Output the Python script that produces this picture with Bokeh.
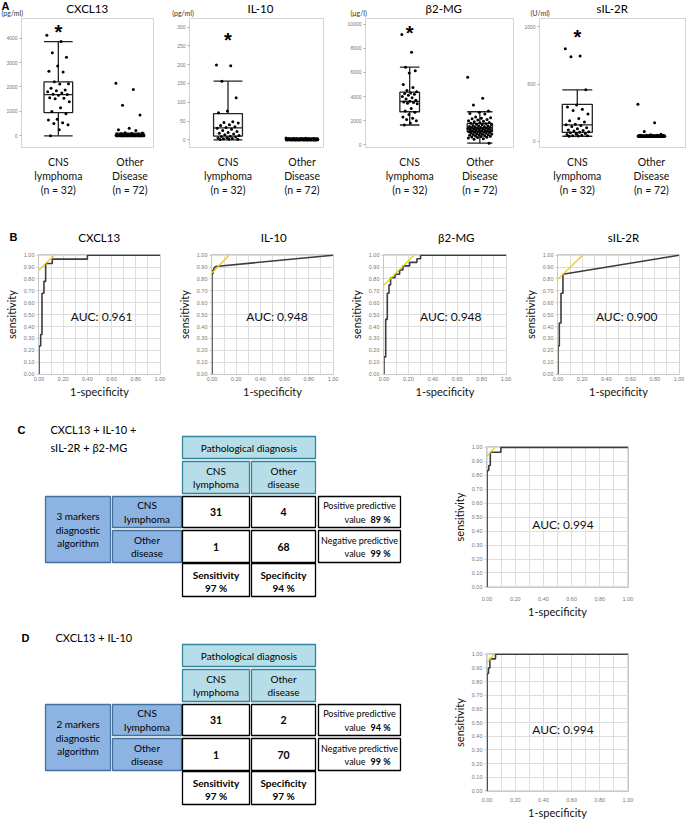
from bokeh.plotting import figure
from bokeh.models import Range1d, FixedTicker, Label, NumeralTickFormatter
from bokeh.layouts import row, column
from bokeh.core.properties import value
from bokeh.embed import file_html
from bokeh.resources import INLINE

FONT = "Lato"
W = 688

# ---------------- Panel A data ----------------
group_labels = ["CNS\nlymphoma\n(n = 32)", "Other\nDisease\n(n = 72)"]
marker_names = ["CXCL13", "IL-10", "β2-MG", "sIL-2R"]
unit_labels = ["(pg/ml)", "(pg/ml)", "(μg/l)", "(U/ml)"]

cxcl13_cns = [4120, 3860, 3400, 3220, 2860, 2640, 2610, 2210, 2130, 2120, 1950, 1880, 1850, 1800,
              1750, 1700, 1690, 1660, 1560, 1540, 1520, 1400, 1150, 1000, 900, 680, 650, 530, 500,
              450, 250, 0]
cxcl13_oth = [2150, 1900, 1250, 850, 310, 250, 220, 130, 110, 95, 80, 70, 65, 60, 55, 50, 48, 45,
              42, 40, 38, 35, 33, 30, 28, 26, 25, 24, 22, 20, 19, 18, 17, 16, 15, 14, 13, 12, 11,
              10, 10, 9, 8, 8, 7, 6, 6, 5, 5, 4, 4, 3, 3, 2, 2, 1, 1, 0, 0, 0, 0, 0, 0, 0, 0, 0, 0,
              0, 0, 0, 0, 0]
il10_cns = [199, 197, 156, 112, 77, 72, 48, 46, 45, 40, 38, 35, 33, 31, 28, 25, 22, 20, 18, 16, 14,
            12, 10, 9, 8, 6, 5, 4, 3, 2, 2, 1]
il10_oth = [5, 4.5, 4, 4, 3.5, 3, 3, 3, 2.5, 2.5, 2, 2, 2, 2, 2, 1.8, 1.8, 1.6, 1.5, 1.5, 1.5, 1.4,
            1.3, 1.2, 1.2, 1.1, 1, 1, 1, 1, 1, 1, 0.9, 0.9, 0.8, 0.8, 0.8, 0.7, 0.7, 0.6, 0.6, 0.6,
            0.5, 0.5, 0.5, 0.5, 0.4, 0.4, 0.4, 0.3, 0.3, 0.3, 0.3, 0.2, 0.2, 0.2, 0.2, 0.1, 0.1,
            0.1, 0.1, 0, 0, 0, 0, 0, 0, 0, 0, 0, 0, 0]
b2mg_cns = [9150, 7670, 6440, 6150, 5950, 5000, 4750, 4500, 4400, 4300, 4250, 4200, 4100, 4000,
            3900, 3800, 3700, 3600, 3550, 3500, 3450, 3400, 3000, 2800, 2700, 2500, 2300, 2200,
            2100, 2000, 1800, 1640]
b2mg_oth = [5600, 3850, 3300, 2800, 2700, 2600, 2550, 2300, 2250, 2200, 2150, 2100, 2050, 2000,
            1950, 1900, 1850, 1800, 1780, 1750, 1700, 1680, 1650, 1600, 1580, 1550, 1520, 1500,
            1480, 1450, 1430, 1400, 1380, 1360, 1340, 1320, 1300, 1280, 1260, 1240, 1220, 1200,
            1180, 1160, 1140, 1120, 1100, 1080, 1060, 1040, 1020, 1000, 980, 950, 920, 900, 880,
            850, 820, 800, 780, 750, 720, 700, 680, 650, 620, 600, 550, 500, 450, 130]
sil2r_cns = [808, 746, 740, 450, 318, 300, 280, 270, 240, 200, 180, 170, 150, 145, 140, 130, 120,
             110, 100, 95, 90, 85, 80, 75, 70, 65, 60, 55, 50, 50, 48, 45]
sil2r_oth = [324, 163, 87, 62, 58, 55, 54, 53, 52, 51, 50, 50, 50, 49, 49, 48, 48, 48, 47, 47, 47,
             47, 46, 46, 46, 46, 46, 46, 45, 45, 45, 45, 45, 45, 45, 45, 45, 45, 45, 45, 45, 45,
             45, 45, 45, 45, 45, 45, 45, 45, 45, 45, 45, 45, 45, 45, 45, 45, 45, 45, 45, 45, 45,
             45, 45, 45, 45, 45, 45, 45, 45, 45]

# box statistics: [lower whisker, Q1, median, Q3, upper whisker]
cxcl13_box = [[0, 950, 1690, 2210, 3860], [0, 8, 20, 45, 110]]
il10_box = [[0, 10, 32, 70, 156], [0, 0.4, 1, 2, 5]]
b2mg_box = [[1640, 2740, 3590, 4360, 6440], [130, 1080, 1380, 1770, 2740]]
sil2r_box = [[45, 79, 144, 324, 450], [45, 45, 47, 50, 55]]

cxcl13_ticks = [0, 1000, 2000, 3000, 4000]
il10_ticks = [0, 50, 100, 150, 200, 250, 300]
b2mg_ticks = [0, 2000, 4000, 6000, 8000, 10000]
sil2r_ticks = [0, 500, 1000]

star_y = [4485, 282, 9800, 966]

# ---------------- ROC data ----------------
roc_xticks = [0.0, 0.2, 0.4, 0.6, 0.8, 1.0]
roc_yticks = [0.0, 0.1, 0.2, 0.3, 0.4, 0.5, 0.6, 0.7, 0.8, 0.9, 1.0]
roc_grid = [0.0, 0.1, 0.2, 0.3, 0.4, 0.5, 0.6, 0.7, 0.8, 0.9, 1.0]

cxcl13_fpr = [0, 0, 0.014, 0.014, 0.025, 0.025, 0.041, 0.041, 0.055, 0.055, 0.11, 0.11, 0.40, 0.40, 1.0]
cxcl13_tpr = [0, 0.236, 0.236, 0.333, 0.333, 0.68, 0.68, 0.78, 0.78, 0.93, 0.93, 0.967, 0.967, 1.0, 1.0]
il10_fpr = [0, 0, 0.008, 0.008, 0.016, 0.016, 0.03, 1.0]
il10_tpr = [0, 0.844, 0.844, 0.875, 0.875, 0.89, 0.905, 1.0]
b2mg_fpr = [0, 0, 0.014, 0.014, 0.027, 0.027, 0.041, 0.041, 0.054, 0.054, 0.09, 0.09, 0.128, 0.128,
            0.155, 0.155, 0.21, 0.21, 0.27, 0.27, 0.30, 0.30, 1.0]
b2mg_tpr = [0, 0.144, 0.144, 0.46, 0.46, 0.68, 0.68, 0.75, 0.75, 0.81, 0.81, 0.84, 0.84, 0.875,
            0.875, 0.91, 0.91, 0.94, 0.94, 0.97, 0.97, 1.0, 1.0]
sil2r_fpr = [0, 0, 0.011, 0.011, 0.025, 0.025, 0.041, 0.041, 1.0]
sil2r_tpr = [0, 0.236, 0.236, 0.43, 0.43, 0.68, 0.68, 0.84, 1.0]
comb4_fpr = [0, 0, 0.012, 0.012, 0.023, 0.023, 0.098, 0.098, 1.0]
comb4_tpr = [0, 0.834, 0.834, 0.87, 0.87, 0.965, 0.965, 1.0, 1.0]
comb2_fpr = [0, 0, 0.01, 0.01, 0.02, 0.02, 0.06, 0.06, 1.0]
comb2_tpr = [0, 0.86, 0.86, 0.9, 0.9, 0.967, 0.967, 1.0, 1.0]

# optimal-cutoff tangent lines (yellow)
cxcl13_cut = ([0, 0.125], [0.875, 1.0])
il10_cut = ([0, 0.14], [0.85, 1.0])
b2mg_cut = ([0, 0.245], [0.75, 1.0])
sil2r_cut = ([0, 0.204], [0.80, 1.0])
comb4_cut = ([0, 0.056], [0.936, 1.0])
comb2_cut = ([0, 0.05], [0.94, 1.0])

auc_values = ["0.961", "0.948", "0.948", "0.900"]
auc_comb4 = "0.994"
auc_comb2 = "0.994"

# ---------------- Tables ----------------
tab_col_labels = [["CNS", "lymphoma"], ["Other", "disease"]]
tab_row_labels = [["CNS", "lymphoma"], ["Other", "disease"]]
tabC_title = ["CXCL13 + IL-10 +", "sIL-2R + β2-MG"]
tabC_alg = ["3 markers", "diagnostic", "algorithm"]
tabC_counts = [[31, 4], [1, 68]]
tabC_sens, tabC_spec = "97 %", "94 %"
tabC_ppv, tabC_npv = "89 %", "99 %"
tabD_title = ["CXCL13 + IL-10"]
tabD_alg = ["2 markers", "diagnostic", "algorithm"]
tabD_counts = [[31, 2], [1, 70]]
tabD_sens, tabD_spec = "97 %", "97 %"
tabD_ppv, tabD_npv = "94 %", "99 %"


def blank(width, height, x0, x1, y_top, y_bot):
    p = figure(width=width, height=height, x_range=Range1d(x0, x1), y_range=Range1d(y_bot, y_top),
               output_backend="svg", toolbar_location=None, x_axis_location=None,
               y_axis_location=None, min_border=0)
    p.grid.visible = False
    p.outline_line_color = None
    p.background_fill_color = "white"
    p.border_fill_color = "white"
    return p


def put_text(p, items, size="10px", bold=False, align="center", font=FONT, color="black"):
    p.text(x=[i[0] for i in items], y=[i[1] for i in items], text=[i[2] for i in items],
           text_align=align, text_baseline="middle", text_font=value(font),
           text_font_size=value(size), text_font_style=value("bold" if bold else "normal"),
           text_color=color)


def jitter(i, half):
    return half * (((i * 0.6180339887) % 1.0) * 2 - 1)


# ---------------- Row A: header strip + box plots ----------------
SA_H = 17
SA = blank(W, SA_H, 0, W, 0, SA_H)
A_title_x = [86.7, 260, 443.3, 611.7]
A_unit_x = [1, 171.7, 350, 530]
put_text(SA, [(5, 5.5, "A")], size="11px", bold=True, font="Liberation Sans")
put_text(SA, [(A_title_x[k], 7.5, marker_names[k]) for k in range(4)], size="11.5px")
put_text(SA, [(A_unit_x[k], 12.2, unit_labels[k]) for k in range(4)], size="7px",
         align="left", color="#333333")

A_H, A_TOP, A_FH = 182, 1, 136
A_w = [170, 170, 178, 170]
A_lb = [21, 19, 25, 21]
A_fw = [132, 134, 148, 146]
A_xr = [(-0.514, 1.328), (-0.52, 1.29), (-0.63, 1.48), (-0.51, 1.46)]
A_yr = [(-479, 4806), (-20.2, 322.7), (-230, 10480), (-53, 1073)]
A_bw = [(0.40, 0.41), (0.39, 0.45), (0.28, 0.36), (0.405, 0.38)]

A_vals = [(cxcl13_cns, cxcl13_oth), (il10_cns, il10_oth), (b2mg_cns, b2mg_oth), (sil2r_cns, sil2r_oth)]
A_box = [cxcl13_box, il10_box, b2mg_box, sil2r_box]
A_ticks = [cxcl13_ticks, il10_ticks, b2mg_ticks, sil2r_ticks]

figsA = []
for k in range(4):
    w, lb, fw = A_w[k], A_lb[k], A_fw[k]
    p = figure(width=w, height=A_H, x_range=Range1d(*A_xr[k]), y_range=Range1d(*A_yr[k]),
               output_backend="svg", toolbar_location=None,
               min_border_left=lb, min_border_right=w - lb - fw,
               min_border_top=A_TOP, min_border_bottom=A_H - A_TOP - A_FH)
    p.xgrid.visible = False
    p.ygrid.visible = False
    p.outline_line_color = "#d4d4d4"
    p.background_fill_color = "white"
    p.border_fill_color = "white"
    p.xaxis.ticker = FixedTicker(ticks=[0, 1])
    p.xaxis.major_label_overrides = {0: group_labels[0], 1: group_labels[1]}
    p.xaxis.axis_line_color = None
    p.xaxis.major_tick_line_color = None
    p.xaxis.minor_tick_line_color = None
    p.xaxis.major_label_text_font = FONT
    p.xaxis.major_label_text_font_size = "10.5px"
    p.xaxis.major_label_text_color = "#111111"
    p.xaxis.major_label_standoff = 2
    p.yaxis.ticker = FixedTicker(ticks=A_ticks[k])
    p.yaxis.axis_line_color = None
    p.yaxis.major_tick_line_color = "#aaaaaa"
    p.yaxis.major_tick_out = 2
    p.yaxis.major_tick_in = 0
    p.yaxis.minor_tick_line_color = None
    p.yaxis.major_label_text_font_size = "5px"
    p.yaxis.major_label_text_color = "#777777"
    p.yaxis.major_label_standoff = 2
    for g in range(2):
        vals = A_vals[k][g]
        lo, q1, med, q3, hi = A_box[k][g]
        bw = A_bw[k][g]
        p.quad(left=[g - bw / 2], right=[g + bw / 2], bottom=[q1], top=[q3],
               fill_color=None, line_color="#222222", line_width=1.3)
        p.segment(x0=[g - bw / 2, g, g, g - bw / 2, g - bw / 2],
                  y0=[med, q3, q1, hi, lo],
                  x1=[g + bw / 2, g, g, g + bw / 2, g + bw / 2],
                  y1=[med, hi, lo, hi, lo], line_color="#222222", line_width=1.3)
        half = bw * (0.40 if g == 0 else 0.48)
        xs = [g + jitter(i, half) for i in range(len(vals))]
        p.scatter(xs, vals, size=3, color="black", line_color=None)
    p.text(x=[0], y=[star_y[k]], text=["*"], text_align="center", text_baseline="middle",
           text_font=value("Liberation Sans"), text_font_size=value("20px"),
           text_font_style=value("bold"), text_color="black", y_offset=6)
    figsA.append(p)


# ---------------- ROC helper ----------------
def make_roc(w, h, lb, fw, tb, fh, fpr, tpr, cut, auc_text, auc_pos, xstand=2):
    p = figure(width=w, height=h, x_range=Range1d(-0.004, 1.004), y_range=Range1d(-0.004, 1.006),
               output_backend="svg", toolbar_location=None,
               min_border_left=lb, min_border_right=w - lb - fw,
               min_border_top=tb, min_border_bottom=h - tb - fh)
    p.background_fill_color = "white"
    p.border_fill_color = "white"
    p.outline_line_color = "#c8c8c8"
    p.xgrid.ticker = FixedTicker(ticks=roc_grid)
    p.ygrid.ticker = FixedTicker(ticks=roc_grid)
    p.grid.grid_line_color = "#dedede"
    p.grid.grid_line_width = 1
    p.xaxis.ticker = FixedTicker(ticks=roc_xticks)
    p.yaxis.ticker = FixedTicker(ticks=roc_yticks)
    p.axis.formatter = NumeralTickFormatter(format="0.00")
    p.axis.axis_line_color = "#c8c8c8"
    p.axis.major_tick_line_color = "#c8c8c8"
    p.axis.major_tick_in = 0
    p.axis.minor_tick_line_color = None
    p.axis.major_label_text_font_size = "5.5px"
    p.axis.major_label_text_color = "#777777"
    p.yaxis.major_tick_out = 2
    p.yaxis.major_label_standoff = 2
    p.xaxis.major_tick_out = 0
    p.xaxis.major_label_standoff = xstand
    p.axis.axis_label_text_font = FONT
    p.axis.axis_label_text_font_size = "11px"
    p.axis.axis_label_text_font_style = "normal"
    p.axis.axis_label_text_color = "#111111"
    p.xaxis.axis_label_standoff = 1
    p.yaxis.axis_label_standoff = 3
    p.xaxis.axis_label = "1-specificity"
    p.yaxis.axis_label = "sensitivity"
    p.line(fpr, tpr, line_color="#3c3c3c", line_width=1.6)
    p.line(cut[0], cut[1], line_color="#e4cf1f", line_width=1.3)
    p.add_layout(Label(x=auc_pos[0], y=auc_pos[1], text="AUC:  " + auc_text, text_align="center",
                       text_baseline="middle", text_font=FONT, text_font_size="12px",
                       text_color="#111111"))
    return p


# ---------------- Row B: header strip + ROC curves ----------------
SB_TOP = SA_H + A_H
SB_H = 250 - SB_TOP
SB = blank(W, SB_H, 0, W, SB_TOP, SB_TOP + SB_H)
B_title_x = [98.7, 273.3, 455.8, 623]
put_text(SB, [(13, 236.7, "B")], size="11px", bold=True, font="Liberation Sans")
put_text(SB, [(B_title_x[k], 236.7, marker_names[k]) for k in range(4)], size="11.5px")

B_H, B_TOP, B_FH = 150, 4, 123
B_w = [172, 172, 172, 172]
B_lb = [38, 39, 39, 41]
B_fw = [122, 122, 123, 122]
B_auc_pos = [(0.53, 0.48), (0.55, 0.48), (0.56, 0.48), (0.58, 0.48)]
B_curves = [(cxcl13_fpr, cxcl13_tpr, cxcl13_cut), (il10_fpr, il10_tpr, il10_cut),
            (b2mg_fpr, b2mg_tpr, b2mg_cut), (sil2r_fpr, sil2r_tpr, sil2r_cut)]
figsB = []
for k in range(4):
    fpr, tpr, cut = B_curves[k]
    figsB.append(make_roc(B_w[k], B_H, B_lb[k], B_fw[k], B_TOP, B_FH, fpr, tpr, cut,
                          auc_values[k], B_auc_pos[k]))

# ---------------- ROC C / D ----------------
RC = make_roc(268, 225, 66, 142, 46, 141, comb4_fpr, comb4_tpr, comb4_cut, auc_comb4, (0.55, 0.45),
              xstand=9)
RD = make_roc(268, 196, 66, 142, 28, 139, comb2_fpr, comb2_tpr, comb2_cut, auc_comb2, (0.55, 0.45),
              xstand=6)

# ---------------- Tables C / D ----------------
T = blank(420, 421, 0, 420, 400, 821)

HDR_FILL, HDR_LINE = "#b7dee8", "#31859c"
SIDE_FILL, SIDE_LINE = "#8db3e2", "#41719c"


def table_panel(dy, letter, letter_x, title_lines, title_x, alg, counts, sens, spec, ppv, npv):
    boxes = [
        (182, 315, 436, 458, HDR_FILL, HDR_LINE),
        (182, 249, 461, 493, HDR_FILL, HDR_LINE),
        (251, 315, 461, 493, HDR_FILL, HDR_LINE),
        (45, 110, 496, 562, SIDE_FILL, SIDE_LINE),
        (112, 181, 496, 527, SIDE_FILL, SIDE_LINE),
        (112, 181, 530, 562, SIDE_FILL, SIDE_LINE),
        (182, 249, 496, 527, "white", "black"),
        (251, 315, 496, 527, "white", "black"),
        (182, 249, 530, 562, "white", "black"),
        (251, 315, 530, 562, "white", "black"),
        (182, 249, 563, 596, "white", "black"),
        (251, 315, 563, 596, "white", "black"),
        (318, 400, 496, 527, "white", "black"),
        (318, 400, 530, 562, "white", "black"),
    ]
    T.quad(left=[b[0] for b in boxes], right=[b[1] for b in boxes],
           top=[b[2] + dy for b in boxes], bottom=[b[3] + dy for b in boxes],
           fill_color=[b[4] for b in boxes], line_color=[b[5] for b in boxes], line_width=1.3)

    def txt(items, **kw):
        put_text(T, [(i[0], i[1] + dy, i[2]) for i in items], **kw)

    txt([(letter_x, 429, letter)], size="11px", bold=True, font="Liberation Sans")
    txt([(title_x, 429 + 17.5 * j, s) for j, s in enumerate(title_lines)], size="11px", align="left")
    txt([(248.5, 447, "Pathological diagnosis"),
         (215.5, 470.5, tab_col_labels[0][0]), (215.5, 483.5, tab_col_labels[0][1]),
         (283, 470.5, tab_col_labels[1][0]), (283, 483.5, tab_col_labels[1][1]),
         (77.5, 515.5, alg[0]), (77.5, 529, alg[1]), (77.5, 542.5, alg[2]),
         (146.5, 504.5, tab_row_labels[0][0]), (146.5, 518.5, tab_row_labels[0][1]),
         (146.5, 539, tab_row_labels[1][0]), (146.5, 552, tab_row_labels[1][1])], size="10px")
    txt([(359, 505, "Positive predictive"), (359, 539.5, "Negative predictive")], size="9px")
    txt([(365, 519, "value"), (365, 553, "value")], size="9px", align="right")
    txt([(370, 519, ppv), (370, 553, npv)], size="9px", bold=True, align="left")
    txt([(215.5, 511.5, str(counts[0][0])), (283, 511.5, str(counts[0][1])),
         (215.5, 546, str(counts[1][0])), (283, 546, str(counts[1][1]))], size="10.5px", bold=True)
    txt([(215.5, 574, "Sensitivity"), (215.5, 587, sens),
         (283, 574, "Specificity"), (283, 587, spec)], size="10px", bold=True)


table_panel(0, "C", 21, tabC_title, 50, tabC_alg, tabC_counts, tabC_sens, tabC_spec, tabC_ppv, tabC_npv)
table_panel(208, "D", 25, tabD_title, 55, tabD_alg, tabD_counts, tabD_sens, tabD_spec, tabD_ppv, tabD_npv)

layout = column(SA, row(*figsA), SB, row(*figsB), row(T, column(RC, RD)))

with open("out.html", "w", encoding="utf-8") as f:
    f.write(file_html(layout, INLINE, title="CNS lymphoma markers"))
